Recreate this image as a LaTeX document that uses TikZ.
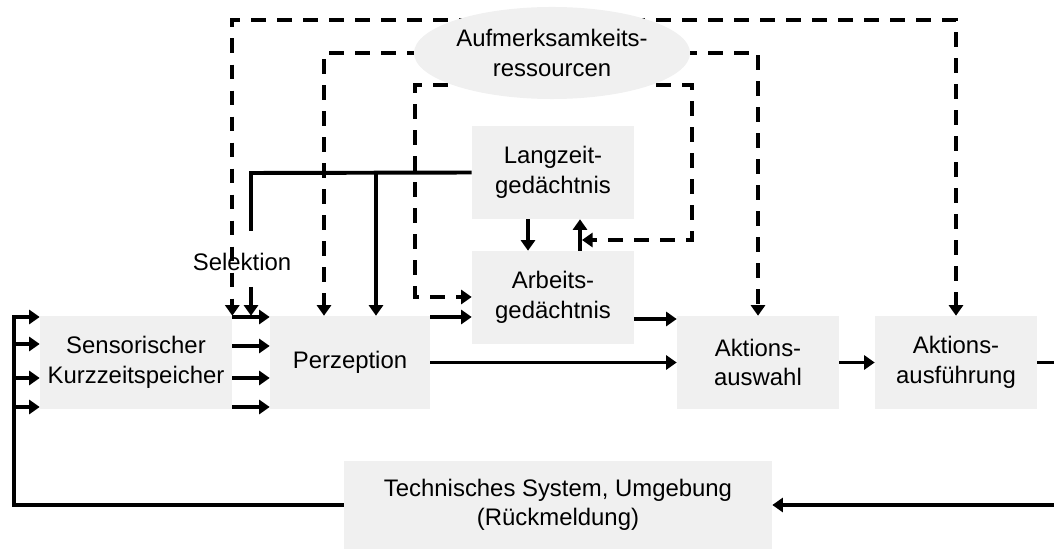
\documentclass[tikz,border=0pt]{standalone}
\usepackage{fontspec}
\setmainfont{Liberation Sans}
\usepackage{tikz}
\usetikzlibrary{arrows.meta,calc,shapes.geometric,backgrounds}
\definecolor{boxfill}{HTML}{F0F0F0}
\tikzset{box/.style={fill=boxfill,inner sep=0pt,align=center,font=\fontsize{17}{21}\selectfont},flow/.style={-{Triangle[length=7.5pt,width=10pt]},line width=2.8pt},link/.style={line width=2.8pt},attn/.style={-{Triangle[length=7.5pt,width=10pt]},line width=2.8pt,dash pattern=on 10.5pt off 8pt}}

\begin{document}
\begin{tikzpicture}[x=0.025cm,y=-0.025cm]
\useasboundingbox (0,0) rectangle (1054,550);
% boxes
\node[box,minimum width=4.8cm,minimum height=2.325cm] (sks) at (136,362.5) {Sensorischer\\Kurzzeitspeicher};
\node[box,minimum width=4cm,minimum height=2.325cm] (perz) at (350,362.5) {Perzeption};
\node[box,minimum width=4.05cm,minimum height=2.325cm] (lzg) at (553,172.5) {Langzeit-\\gedächtnis};
\node[box,minimum width=4.05cm,minimum height=2.325cm] (azg) at (553,297.5) {Arbeits-\\gedächtnis};
\node[box,minimum width=4.05cm,minimum height=2.325cm] (ausw) at (758,362.5) {Aktions-\\auswahl};
\node[box,minimum width=4.05cm,minimum height=2.325cm] (ausf) at (956,362.5) {Aktions-\\ausführung};
\node[box,minimum width=10.7cm,minimum height=2.2cm] (tech) at (558,505) {Technisches System, Umgebung\\(Rückmeldung)};
\node[box,ellipse,minimum width=6.9cm,minimum height=2.3cm] (aufm) at (552,53) {Aufmerksamkeits-\\ressourcen};
\node[font=\fontsize{17}{21}\selectfont] (sel) at (242,262) {Selektion};
% attention
\begin{pgfonlayer}{background}
\draw[attn] (aufm.center |- 0,20) -| (sks.north east);\draw[attn] (aufm.center |- 0,20) -| (ausf.north);
\draw[attn] (aufm.center |- 0,53) -| (perz.north -| 324,0);\draw[attn] (aufm.center |- 0,53) -| (ausw.north);
\draw[attn] (aufm.center |- 0,85) -| (415,297) -- (azg.west |- 0,297);\draw[attn] (aufm.center |- 0,85) -| (692,240) -- (582,240);
\end{pgfonlayer}
% selection
\coordinate (selk) at (251,173);
\draw[link] (lzg.west) -- (selk) -- (251,231);\draw[flow] (251,287) -- (selk |- sks.north);
\draw[flow] (376,173) -- (perz.north -| 376,0);
% main flow
\foreach \yy in {317,346,378,407}{\draw[flow] (sks.east |- 0,\yy) -- (perz.west |- 0,\yy);}
\draw[flow] (lzg.south -| 528,0) -- (azg.north -| 528,0);\draw[flow] (azg.north -| 580,0) -- (lzg.south -| 580,0);
\draw[flow] (perz.east |- 0,317) -- (azg.west |- 0,317);\draw[flow] (azg.east |- 0,319) -- (ausw.west |- 0,319);
\draw[flow] (perz.east) -- (ausw.west);\draw[flow] (ausw) -- (ausf);
% feedback
\draw[flow] (ausf.east) -- (1064,362.5) |- (tech.east);
\draw[flow] (tech.west) -| (14,317) -- (sks.west |- 0,317);
\foreach \yy in {344,378,407}{\draw[flow] (14,\yy) -- (sks.west |- 0,\yy);}
\end{tikzpicture}
\end{document}
